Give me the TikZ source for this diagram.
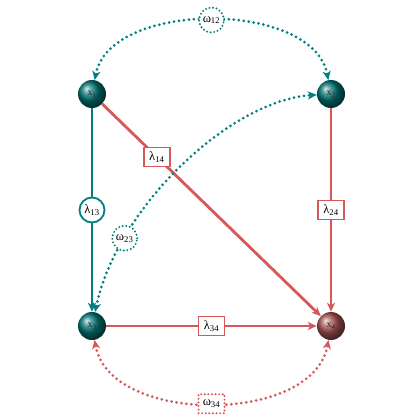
\documentclass[tikz,border=0pt]{standalone}
\usepackage{fontspec}
\setmainfont{Liberation Serif}
\usetikzlibrary{arrows.meta,shadings}
\definecolor{tl}{RGB}{0,128,128}
\definecolor{rd}{RGB}{214,88,88}
\definecolor{tlball}{RGB}{0,115,115}
\definecolor{rdball}{RGB}{165,80,80}
\tikzset{
  ballnode/.style={circle,shading=ball,ball color=#1,minimum size=28pt,inner sep=0pt,
    font=\fontsize{10}{10}\selectfont,text=black!85},
  tip/.style={-{Stealth[length=9pt,width=8pt,inset=2.5pt]}},
  bitip/.style={{Stealth[length=9pt,width=8pt,inset=2.5pt]}-{Stealth[length=9pt,width=8pt,inset=2.5pt]}},
  solidline/.style={draw=#1,line width=2.8pt},
  dotline/.style={draw=#1,line width=3pt,line cap=round,dash pattern=on 0pt off 5pt},
  circlab/.style={circle,draw=#1,fill=white,line width=1.8pt,minimum size=25pt,inner sep=0pt,font=\fontsize{12.5}{12.5}\selectfont},
  rectlab/.style={rectangle,draw=#1,fill=white,line width=1.8pt,minimum width=26pt,minimum height=19pt,inner sep=1.5pt,font=\fontsize{12.5}{12.5}\selectfont},
  dotcirclab/.style={circle,draw=#1,fill=white,line width=2.2pt,line cap=round,dash pattern=on 0pt off 3.6pt,minimum size=25pt,inner sep=0pt,font=\fontsize{12.5}{12.5}\selectfont},
  dotrectlab/.style={rectangle,draw=#1,fill=white,line width=2.2pt,line cap=round,dash pattern=on 0pt off 3.6pt,minimum width=26pt,minimum height=19pt,inner sep=1.5pt,font=\fontsize{12.5}{12.5}\selectfont},
}
\begin{document}
\begin{tikzpicture}[x=1pt,y=-1pt]
\useasboundingbox[fill=white] (0,0) rectangle (420,420);
\node[ballnode=tlball] (x1) at (92,94) {x\textsubscript{1}};
\node[ballnode=tlball] (x2) at (331,94) {x\textsubscript{2}};
\node[ballnode=tlball] (x3) at (92,326) {x\textsubscript{3}};
\node[ballnode=rdball] (x4) at (331,326) {x\textsubscript{4}};

\draw[solidline=tl,tip] (x1) -- node[circlab=tl] (l13) {λ\textsubscript{13}} (x3);
\draw[solidline=rd,tip] (x1) -- node[rectlab=rd,pos=0.25] (l14) {λ\textsubscript{14}} (x4);
\draw[solidline=rd,tip] (x2) -- node[rectlab=rd] (l24) {λ\textsubscript{24}} (x4);
\draw[solidline=rd,tip] (x3) -- node[rectlab=rd] (l34) {λ\textsubscript{34}} (x4);

\draw[dotline=tl,bitip] (x1) .. controls (110,0) and (313,0) .. node[dotcirclab=tl,pos=0.5] (w12) {ω\textsubscript{12}} (x2);
\draw[dotline=rd,bitip] (x3) .. controls (110,425) and (313,425) .. node[dotrectlab=rd,pos=0.5] (w34) {ω\textsubscript{34}} (x4);
\draw[dotline=tl,bitip] (x3) .. controls (118,205) and (232,100) .. node[dotcirclab=tl,pos=0.235] (w23) {ω\textsubscript{23}} (x2);
\end{tikzpicture}
\end{document}
